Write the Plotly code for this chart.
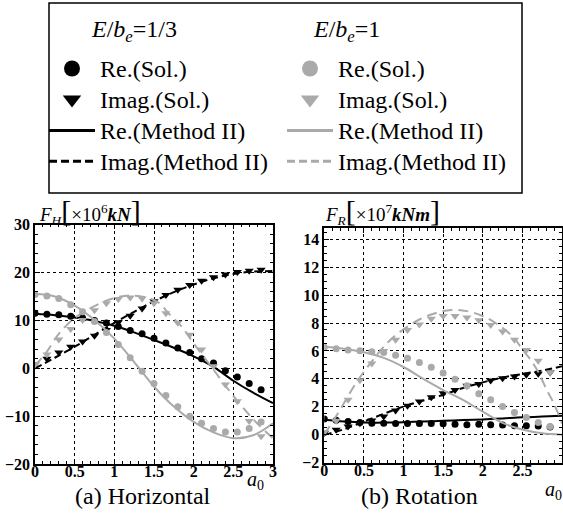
import plotly.graph_objects as go
from plotly.subplots import make_subplots

W, H = 563, 515
FONT = "Liberation Serif"
BLACK = "#000000"
GREY = "#aaaaaa"

# ---------------- data ----------------
a0_sol = [0.0, 0.15, 0.3, 0.45, 0.6, 0.75, 0.9, 1.05, 1.2, 1.35,
          1.5, 1.65, 1.8, 1.95, 2.1, 2.25, 2.4, 2.55, 2.7, 2.85]
a0_m2 = [0.0, 0.25, 0.5, 0.75, 1.0, 1.25, 1.5, 1.75, 2.0, 2.25, 2.5, 2.75, 3.0]

# (a) Horizontal, E/be = 1/3
h13_re_sol = [11.5, 11.3, 11.2, 10.85, 10.5, 10.0, 9.45, 8.75, 7.9, 7.2,
              6.3, 5.3, 4.25, 3.3, 2.0, 1.1, -0.5, -1.8, -3.2, -4.5]
h13_im_sol = [0.8, 2.0, 3.3, 4.5, 5.6, 6.8, 8.0, 9.6, 11.0, 12.5,
              14.0, 15.3, 16.4, 17.4, 18.3, 19.0, 19.6, 20.1, 20.4, 20.6]
h13_re_m2 = [11.4, 11.1, 10.6, 9.9, 8.9, 7.5, 5.9, 4.3, 2.5, 0.3, -2.6, -5.1, -7.3]
h13_im_m2 = [0.0, 2.2, 4.5, 7.0, 9.5, 11.8, 14.0, 15.9, 17.5, 18.8, 19.7, 20.2, 20.3]

# (a) Horizontal, E/be = 1
h1_re_sol = [15.4, 15.1, 14.6, 13.3, 11.8, 9.8, 7.5, 4.95, 2.2, -0.6,
             -3.2, -5.7, -8.05, -10.0, -11.5, -12.6, -13.3, -13.3, -12.6, -11.2]
h1_im_sol = [0.8, 2.9, 6.0, 8.2, 10.1, 12.1, 13.6, 14.5, 14.8, 14.6,
             13.6, 11.5, 9.5, 7.0, 3.9, 0.45, -3.4, -6.9, -11.0, -14.2]
h1_re_m2 = [15.5, 15.0, 13.1, 10.1, 6.2, 1.3, -3.8, -8.0, -11.2, -13.4, -14.6, -14.0, -11.5]
h1_im_m2_x = [0.0, 0.15, 0.3, 0.5, 0.75, 1.0, 1.2, 1.4, 1.55, 1.7, 1.85, 2.0, 2.2, 2.4, 2.6, 2.8, 3.0]
h1_im_m2 = [0.5, 3.5, 7.2, 10.5, 13.0, 14.7, 15.2, 14.8, 13.8, 11.2, 8.7, 5.2, 0.8, -3.6, -7.8, -11.5, -14.6]

# (b) Rotation, E/be = 1/3
r13_re_sol = [1.12, 1.03, 0.95, 0.88, 0.83, 0.83, 0.8, 0.8, 0.8, 0.8,
              0.79, 0.75, 0.72, 0.75, 0.72, 0.7, 0.65, 0.65, 0.62, 0.56]
r13_im_sol = [0.12, 0.36, 0.6, 0.83, 1.02, 1.31, 1.74, 2.07, 2.38, 2.69,
              2.98, 3.21, 3.5, 3.64, 3.88, 4.05, 4.17, 4.29, 4.36, 4.45]
r13_re_m2 = [1.07, 0.95, 0.88, 0.87, 0.9, 0.95, 1.0, 1.05, 1.1, 1.17, 1.25, 1.3, 1.36]
r13_im_m2 = [0.0, 0.4, 0.95, 1.5, 2.02, 2.45, 2.86, 3.35, 3.75, 4.1, 4.35, 4.6, 4.9]

# (b) Rotation, E/be = 1
r1_re_sol = [6.26, 6.15, 6.07, 6.02, 5.95, 5.88, 5.7, 5.48, 5.17, 4.84,
             4.42, 3.98, 3.5, 2.93, 2.5, 2.02, 1.6, 1.24, 0.88, 0.6]
r1_im_sol = [0.2, 1.0, 2.5, 3.9, 5.1, 6.0, 6.8, 7.5, 7.9, 8.3,
             8.5, 8.5, 8.4, 8.2, 7.86, 7.4, 6.8, 6.07, 5.3, 4.45]
r1_re_m2 = [6.3, 6.15, 5.9, 5.5, 4.85, 4.0, 3.2, 2.5, 1.65, 0.85, 0.37, 0.1, 0.0]
r1_im_m2_x = [0.0, 0.2, 0.4, 0.6, 0.8, 1.0, 1.2, 1.4, 1.6, 1.8, 2.0, 2.2, 2.4, 2.5, 2.6, 2.7, 2.8, 2.9, 3.0]
r1_im_m2 = [0.0, 1.8, 3.7, 5.25, 6.6, 7.55, 8.25, 8.7, 8.93, 8.85, 8.5, 7.85, 6.9, 6.1, 5.4, 4.5, 3.3, 2.2, 0.8]

x_ticks = [0, 0.5, 1, 1.5, 2, 2.5, 3]
x_tick_text = ["0", "0.5", "1", "1.5", "2", "2.5", "3"]
yh_ticks = [-20, -10, 0, 10, 20, 30]
yr_ticks = [-2, 0, 2, 4, 6, 8, 10, 12, 14]

legend_labels = ["Re.(Sol.)", "Imag.(Sol.)", "Re.(Method II)", "Imag.(Method II)"]

# ---------------- figure ----------------
fig = make_subplots(rows=1, cols=2)

def px(x):
    return x / W

def py(y):
    return 1 - y / H

def add_set(col, color, re_sol, im_sol, re_x, re_m2, im_x, im_m2):
    dash = "7px,4px" if color == BLACK else "10px,6px"
    fig.add_trace(go.Scatter(x=re_x, y=re_m2, mode="lines", line=dict(color=color, width=2, shape="spline"),
                             showlegend=False, hoverinfo="skip"), row=1, col=col)
    fig.add_trace(go.Scatter(x=im_x, y=im_m2, mode="lines",
                             line=dict(color=color, width=2, dash=dash, shape="spline"),
                             showlegend=False, hoverinfo="skip"), row=1, col=col)
    fig.add_trace(go.Scatter(x=a0_sol, y=re_sol, mode="markers",
                             marker=dict(symbol="circle", size=7, color=color), showlegend=False),
                  row=1, col=col)
    fig.add_trace(go.Scatter(x=a0_sol, y=im_sol, mode="markers",
                             marker=dict(symbol="triangle-down", size=8, color=color), showlegend=False),
                  row=1, col=col)

add_set(1, BLACK, h13_re_sol, h13_im_sol, a0_m2, h13_re_m2, a0_m2, h13_im_m2)
add_set(1, GREY, h1_re_sol, h1_im_sol, a0_m2, h1_re_m2, h1_im_m2_x, h1_im_m2)
add_set(2, BLACK, r13_re_sol, r13_im_sol, a0_m2, r13_re_m2, a0_m2, r13_im_m2)
add_set(2, GREY, r1_re_sol, r1_im_sol, a0_m2, r1_re_m2, r1_im_m2_x, r1_im_m2)

# legend entries (legend-only samples)
def lname(s):
    return "<span style='font-size:24px'>" + s + "</span>"

for lg, color in (("legend", BLACK), ("legend2", GREY)):
    fig.add_trace(go.Scatter(x=[None], y=[None], mode="markers", name=lname(legend_labels[0]), legend=lg,
                             marker=dict(symbol="circle", size=16, color=color)))
    fig.add_trace(go.Scatter(x=[None], y=[None], mode="markers", name=lname(legend_labels[1]), legend=lg,
                             marker=dict(symbol="triangle-down", size=16, color=color)))
    fig.add_trace(go.Scatter(x=[None], y=[None], mode="lines", name=lname(legend_labels[2]), legend=lg,
                             line=dict(color=color, width=3)))
    fig.add_trace(go.Scatter(x=[None], y=[None], mode="lines", name=lname(legend_labels[3]), legend=lg,
                             line=dict(color=color, width=3, dash="8px,4px")))

axis_common = dict(
    showline=True, linecolor=BLACK, linewidth=1.5, mirror="allticks",
    ticks="inside", ticklen=5, tickcolor=BLACK, tickwidth=1,
    showgrid=True, gridcolor=BLACK, griddash="dot", gridwidth=1,
    zeroline=False, automargin=False,
    tickfont=dict(family=FONT, size=16, color=BLACK, weight="bold"),
)

fig.update_xaxes(**axis_common, range=[0, 3], tickmode="array", tickvals=x_ticks, ticktext=x_tick_text,
                 ticklabelstandoff=-8,
                 minor=dict(dtick=0.1, ticks="inside", ticklen=3, tickcolor=BLACK, showgrid=False))
fig.update_xaxes(domain=[px(35), px(273)], row=1, col=1)
fig.update_xaxes(domain=[px(324.3), px(562)], row=1, col=2)

fig.update_yaxes(**axis_common)
fig.update_yaxes(range=[-20, 30], tickmode="array", tickvals=yh_ticks,
                 minor=dict(dtick=2, ticks="inside", ticklen=3, tickcolor=BLACK, showgrid=False),
                 domain=[py(464), py(224.7)], row=1, col=1)
fig.update_yaxes(range=[-2, 14.8], tickmode="array", tickvals=yr_ticks,
                 minor=dict(dtick=0.5, ticks="inside", ticklen=3, tickcolor=BLACK, showgrid=False),
                 domain=[py(462.7), py(228)], row=1, col=2)

leg_font = dict(family=FONT, size=21.5, color=BLACK)
legend_common = dict(font=leg_font, bgcolor="rgba(0,0,0,0)", borderwidth=0, itemwidth=46,
                     xanchor="left", yanchor="top", traceorder="normal", itemclick=False,
                     itemdoubleclick=False)

ann_font = dict(family=FONT, size=24, color=BLACK)
annotations = [
    dict(x=px(89), y=py(31), text="<i>E</i>/<i>b</i><sub><i>e</i></sub>=1/3", xanchor="left"),
    dict(x=px(311), y=py(31), text="<i>E</i>/<i>b</i><sub><i>e</i></sub>=1", xanchor="left"),
    dict(x=px(37), y=py(211),
         text="<i>F</i><sub><i>H</i></sub><span style='font-size:30px'>[</span>×10<sup>6</sup><b><i>kN</i></b><span style='font-size:30px'>]</span>",
         xanchor="left", font=dict(family=FONT, size=19, color=BLACK)),
    dict(x=px(323), y=py(211),
         text="<i>F</i><sub><i>R</i></sub><span style='font-size:30px'>[</span>×10<sup>7</sup><b><i>kNm</i></b><span style='font-size:30px'>]</span>",
         xanchor="left", font=dict(family=FONT, size=19, color=BLACK)),
    dict(x=px(143), y=py(496), text="(a) Horizontal", xanchor="center",
         font=dict(family=FONT, size=24, color=BLACK)),
    dict(x=px(419), y=py(496), text="(b) Rotation", xanchor="center",
         font=dict(family=FONT, size=24, color=BLACK)),
    dict(x=px(255), y=py(480), text="<i>a</i><sub>0</sub>", xanchor="center",
         font=dict(family=FONT, size=20, color=BLACK)),
    dict(x=px(553), y=py(490), text="<i>a</i><sub>0</sub>", xanchor="center",
         font=dict(family=FONT, size=20, color=BLACK)),
]
for a in annotations:
    a.setdefault("font", ann_font)
    a.update(xref="paper", yref="paper", yanchor="middle", showarrow=False)

fig.update_layout(
    template="none",
    width=W, height=H, autosize=False,
    margin=dict(l=0, r=0, t=0, b=0, pad=0),
    paper_bgcolor="white", plot_bgcolor="white",
    font=dict(family=FONT, color=BLACK),
    hovermode=False,
    legend=dict(**legend_common, x=px(44), y=py(48)),
    legend2=dict(**legend_common, x=px(282), y=py(48)),
    annotations=annotations,
    shapes=[dict(type="rect", xref="paper", yref="paper",
                 x0=px(49), x1=px(522), y0=py(193), y1=py(3),
                 line=dict(color=BLACK, width=1.5))],
)

fig.write_html("out.html", config={"displayModeBar": False, "responsive": False},
               post_script="document.body.style.margin='0';document.body.style.overflow='hidden';")
